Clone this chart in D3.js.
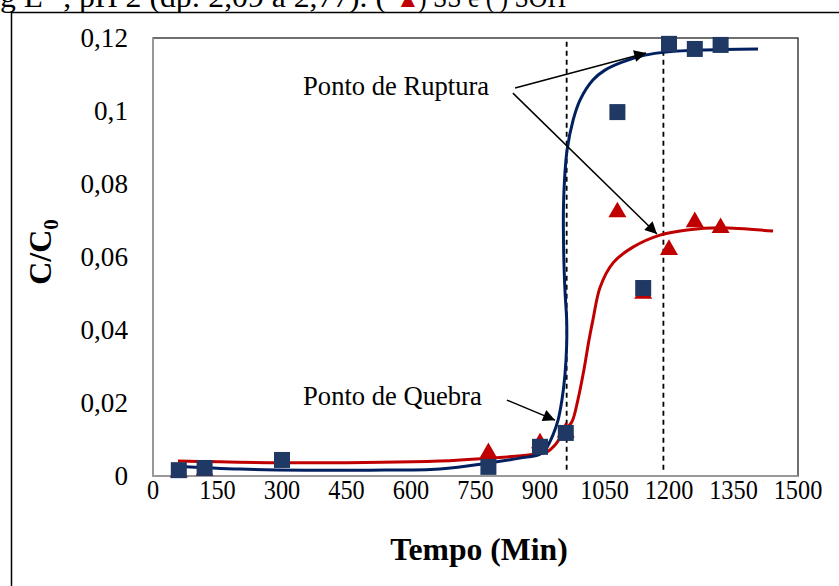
<!DOCTYPE html>
<html><head><meta charset="utf-8">
<script src="https://cdn.jsdelivr.net/npm/d3@7/dist/d3.min.js"></script>
<style>body{margin:0;background:#fff}svg{display:block}text{font-family:"Liberation Serif","Times New Roman",serif}</style>
</head><body><svg id="c" width="839" height="586"></svg>
<script>
// ---- data ----
const timeSOH = [60,120,300,780,900,960,1080,1140,1200,1260,1320];
const valSOH  = [0.0016,0.0022,0.0044,0.0025,0.008,0.0118,0.0997,0.0515,0.1184,0.117,0.1181];
const timeSS  = [60,120,780,900,960,1080,1140,1200,1260,1320];
const valSS   = [0.001,0.0015,0.0063,0.009,0.012,0.0723,0.050,0.062,0.0696,0.068];
const fitTimeSOH = [51,202,358,505,667,784,853,900,916,930,942,951,958,962,962,958,955,955,963,977,993,1023,1051,1091,1144,1198,1272,1407];
const fitSOH     = [0.0027,0.0019,0.0016,0.0016,0.0019,0.0036,0.0049,0.006,0.0079,0.0112,0.0153,0.0208,0.0277,0.0359,0.0427,0.051,0.0619,0.0756,0.0893,0.0975,0.103,0.1085,0.1112,0.1134,0.1153,0.1162,0.1167,0.117];
const fitTimeSS = [58,358,667,784,877,916,935,958,974,988,1002,1014,1023,1040,1070,1116,1179,1242,1319,1442];
const fitSS     = [0.0041,0.0036,0.0041,0.0049,0.0058,0.0066,0.0085,0.0126,0.0148,0.0208,0.029,0.0373,0.0427,0.0518,0.0584,0.0627,0.066,0.0674,0.068,0.0671];
const xTicks = [0,150,300,450,600,750,900,1050,1200,1350,1500];
const yTicks = [0,0.02,0.04,0.06,0.08,0.1,0.12];
const guideTimes = [962,1187];
const captionHead = "g L\u207B\u00B9, pH 2 (dp: 2,09 a 2,77). (";
const captionTail = ") SS e (\u2009) SOH";
const annRuptura = {label:"Ponto de Ruptura", t:349, v:0.1044, arrows:[[842,0.1063,1147,0.1159],[837,0.1049,1172,0.0663]]};
const annQuebra = {label:"Ponto de Quebra", t:349, v:0.0195, arrows:[[823,0.0208,935,0.0153]]};

// ---- layout ----
const svg = d3.select("#c");
const L=153,R=798,T=38,B=476;
const x = d3.scaleLinear().domain([0,1500]).range([L,R]);
const y = d3.scaleLinear().domain([0,0.12]).range([B,T]);
const fmt = d => d3.format(".2~f")(d).replace(".",",");
const blue="#002060", navy="#1F3864", red="#C00000";

function txt(g,px,py,str,size,anchor,sx,weight){
  const t=g.append("text").attr("transform",`translate(${px},${py}) scale(${sx},1)`)
   .attr("font-size",size).attr("text-anchor",anchor||"start").attr("font-weight",weight||"normal").attr("fill","#000");
  if(str!==null) t.text(str);
  return t;
}

// outer frame
svg.append("rect").attr("x",11.5).attr("y",12.5).attr("width",900).attr("height",700).attr("fill","none").attr("stroke","#000").attr("stroke-width",1.5);
// caption (cut at top, as in the source)
const cap = svg.append("text").attr("font-size",30).attr("fill","#000");
cap.append("tspan").attr("x",0).attr("y",7).attr("textLength",386).attr("lengthAdjust","spacingAndGlyphs").text(captionHead);
cap.append("tspan").attr("x",396).attr("y",7).attr("font-size",24).attr("fill",red).text("\u25B2");
cap.append("tspan").attr("x",418).attr("y",7).attr("textLength",148).attr("lengthAdjust","spacingAndGlyphs").text(captionTail);

// plot border
svg.append("rect").attr("x",L).attr("y",T).attr("width",R-L).attr("height",B-T).attr("fill","none").attr("stroke","#222").attr("stroke-width",1.3);
svg.append("line").attr("x1",L).attr("x2",L).attr("y1",T).attr("y2",B).attr("stroke","#a6a6a6").attr("stroke-width",1.5);
svg.append("line").attr("x1",L).attr("x2",R).attr("y1",B).attr("y2",B).attr("stroke","#a6a6a6").attr("stroke-width",1.5);

// ticks
const gx = svg.append("g");
xTicks.forEach(d=>txt(gx,x(d),499,String(d),27,"middle",0.9));
const gy = svg.append("g");
yTicks.forEach(d=>txt(gy,128,y(d)+9,fmt(d),28,"end",0.97));

// axis titles
txt(svg,479,560,"Tempo (Min)",32,"middle",0.99,"bold");
const yt = svg.append("text").attr("transform","translate(51,252) rotate(-90)").attr("text-anchor","middle").attr("font-size",32).attr("font-weight","bold");
yt.append("tspan").text("C/C");
yt.append("tspan").attr("font-size",21).attr("dy",7).text("0");

// guide lines
svg.selectAll(".guide").data(guideTimes).join("line").attr("class","guide")
  .attr("x1",d=>x(d)).attr("x2",d=>x(d)).attr("y1",y(0.119)).attr("y2",y(0.0016))
  .attr("stroke","#000").attr("stroke-width",1.8).attr("stroke-dasharray","5,4");

// fit lines
const line = d3.line().x(d=>x(d[0])).y(d=>y(d[1])).curve(d3.curveCatmullRom.alpha(0.5));
svg.append("path").datum(d3.zip(fitTimeSS,fitSS)).attr("d",line).attr("fill","none").attr("stroke",red).attr("stroke-width",3);
svg.append("path").datum(d3.zip(fitTimeSOH,fitSOH)).attr("d",line).attr("fill","none").attr("stroke",blue).attr("stroke-width",3);

// markers
const tri = d3.symbol().type(d3.symbolTriangle).size(140);
svg.selectAll(".tri").data(d3.zip(timeSS,valSS)).join("path").attr("class","tri")
  .attr("transform",d=>`translate(${x(d[0])},${y(d[1])})`).attr("d",tri).attr("fill",red);
svg.selectAll(".sq").data(d3.zip(timeSOH,valSOH)).join("rect").attr("class","sq")
  .attr("x",d=>x(d[0])-8).attr("y",d=>y(d[1])-8).attr("width",16).attr("height",16).attr("fill",navy);

// annotations
svg.append("defs").append("marker").attr("id","ah").attr("viewBox","0 0 10 10").attr("refX",10).attr("refY",5)
  .attr("markerWidth",13).attr("markerHeight",12).attr("markerUnits","userSpaceOnUse").attr("orient","auto")
  .append("path").attr("d","M0,0L10,5L0,10Z").attr("fill","#000");
[annRuptura,annQuebra].forEach(a=>{
  txt(svg,x(a.t),y(a.v),a.label,28,"start",0.95);
  a.arrows.forEach(r=>{
    svg.append("line").attr("x1",x(r[0])).attr("y1",y(r[1])).attr("x2",x(r[2])).attr("y2",y(r[3]))
      .attr("stroke","#000").attr("stroke-width",1.5).attr("marker-end","url(#ah)");
  });
});
</script></body></html>
